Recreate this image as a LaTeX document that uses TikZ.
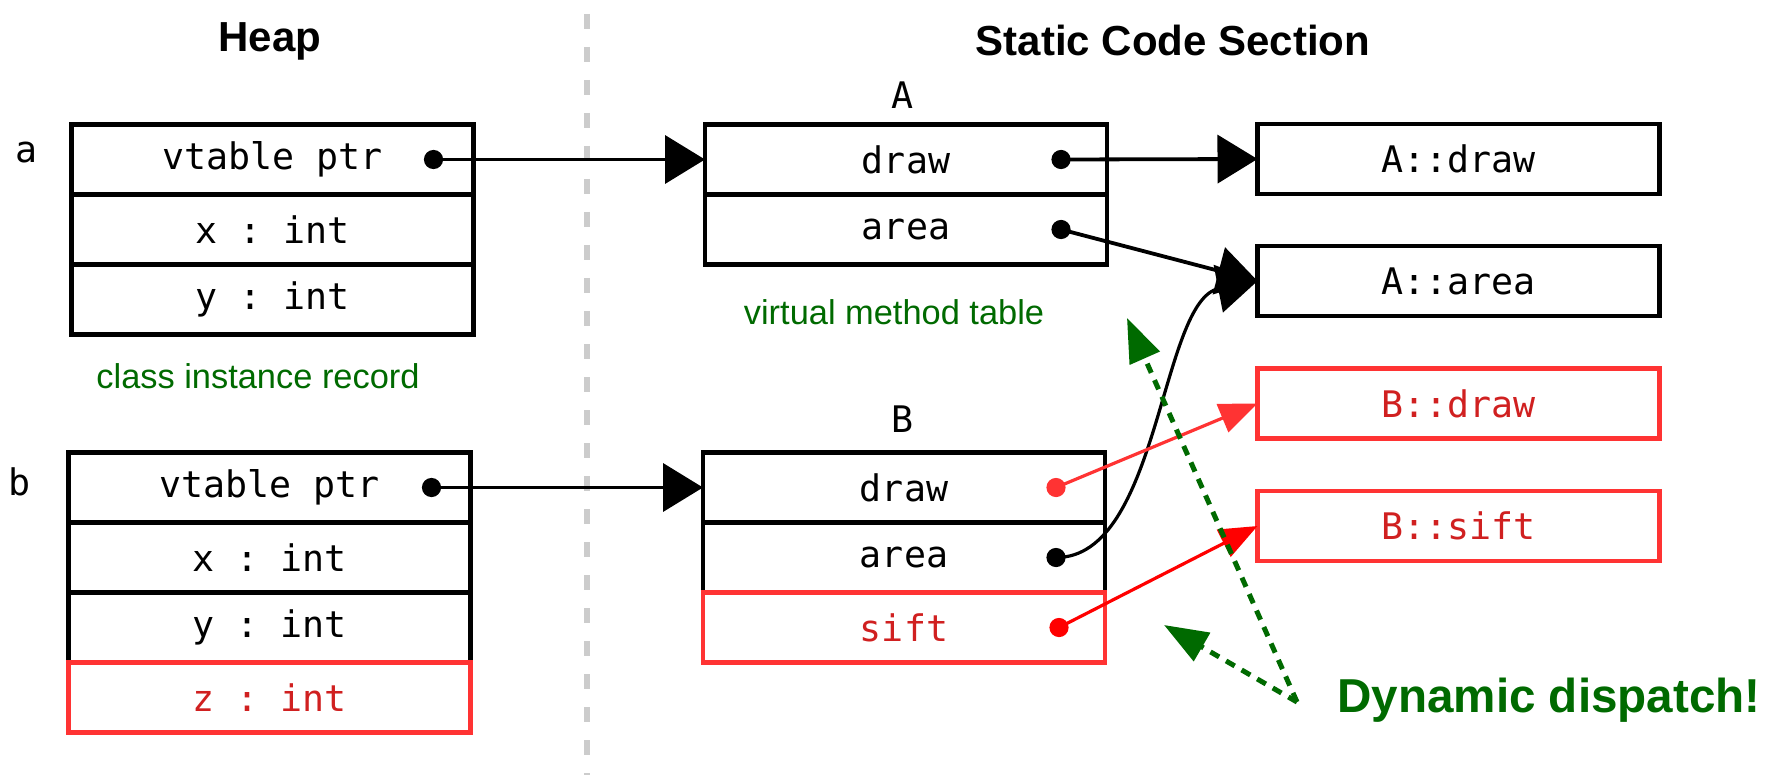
\documentclass[tikz,border=0pt]{standalone}
\usepackage{fontspec}
\setmainfont{Liberation Sans}
\newfontfamily\codefont{DejaVu Sans Mono}
\usetikzlibrary{positioning,arrows.meta}
\frenchspacing

\definecolor{cellred}{HTML}{FF3333}
\definecolor{textred}{HTML}{D02020}
\definecolor{notegreen}{HTML}{006A00}
\definecolor{divgray}{HTML}{CCCCCC}

\tikzset{
  cell/.style={draw,line width=2.2pt,outer sep=0pt,inner sep=0pt,
    minimum width=201pt,minimum height=35pt,
    font=\codefont\fontsize{18.3}{22}\selectfont},
  newcell/.style={cell,draw=cellred,text=textred},
  tag/.style={font=\codefont\fontsize{18.3}{22}\selectfont},
  title/.style={font=\bfseries\fontsize{21}{25}\selectfont},
  note/.style={text=notegreen,font=\fontsize{17.2}{20}\selectfont},
  shout/.style={text=notegreen,font=\bfseries\fontsize{23.8}{28}\selectfont},
  ptr/.style={line width=1.9pt,-{Triangle[length=20pt,width=24pt]}},
  newptr/.style={line width=1.6pt,draw=cellred,-{Triangle[length=19pt,width=15pt]}},
  dispatch/.style={notegreen,line width=2.5pt,dash pattern=on 5pt off 4pt,
    -{Triangle[length=22pt,width=16pt]}},
  divider/.style={divgray,line width=3pt,dash pattern=on 7.5pt off 9pt}
}

\begin{document}
\begin{tikzpicture}[x=0.5pt,y=-0.5pt]
\useasboundingbox (0,0) rectangle (1777,775);

% section titles and divider
\node[title] (heap) at (270,41) {Heap};
\node[title] (static) at (1173,40) {Static Code Section};
\draw[divider] (587,14) -- (587,775);

% object a
\node[cell] (a1) at (272.5,159.5) {vtable ptr};
\node[cell,below=0pt of a1] (a2) {x : int};
\node[cell,below=0pt of a2] (a3) {y : int};
\node[tag] (na) at (27,153) {a};
\node[note] (recnote) at (258,376) {class instance record};

% object b
\node[cell] (b1) at (269.5,487.5) {vtable ptr};
\node[cell,below=0pt of b1] (b2) {x : int};
\node[cell,below=0pt of b2] (b3) {y : int};
\node[newcell,below=0pt of b3] (b4) {z : int};
\node[tag] (nb) at (20,482) {b};

% vtables
\node[cell] (va1) at (906,159.5) {draw};
\node[cell,below=0pt of va1] (va2) {area};
\node[tag] (nA) at (903,95) {A};
\node[note] (vtnote) at (894,312) {virtual method table};

\node[cell] (vb1) at (904,487.5) {draw};
\node[cell,below=0pt of vb1] (vb2) {area};
\node[newcell,below=0pt of vb2] (vb3) {sift};
\node[tag] (nB) at (903,419) {B};

% method bodies
\node[cell] (adraw) at (1458.5,159) {A::draw};
\node[cell] (aarea) at (1458.5,281) {A::area};
\node[newcell] (bdraw) at (1458.5,403.5) {B::draw};
\node[newcell] (bsift) at (1458.5,526) {B::sift};

% pointer slots
\coordinate (pa) at ([xshift=-20pt]a1.east);
\coordinate (pb) at ([xshift=-19.5pt]b1.east);
\coordinate (pad) at ([xshift=-23pt]va1.east);
\coordinate (paa) at ([xshift=-23pt]va2.east);
\coordinate (pbd) at ([xshift=-24.5pt]vb1.east);
\coordinate (pba) at ([xshift=-24.5pt]vb2.east);
\coordinate (pbs) at ([xshift=-23pt]vb3.east);

\draw[ptr] (pa) -- (va1.west);
\draw[ptr] (pb) -- (vb1.west);
\draw[ptr] (pad) -- (adraw.west);
\draw[ptr] (paa) -- (aarea.west);
\draw[ptr,line width=1.6pt] (pba) .. controls (1160,558) and (1160,300) .. (aarea.west);
\draw[newptr] (pbd) -- (bdraw.west);
\draw[newptr,draw=red] (pbs) -- (bsift.west);

\fill (pa) circle (4.8pt) (pb) circle (4.8pt) (pad) circle (4.8pt)
  (paa) circle (4.8pt) (pba) circle (4.8pt);
\fill[cellred] (pbd) circle (4.8pt);
\fill[red] (pbs) circle (4.8pt);

% dispatch note
\coordinate (dd) at (1297,702);
\coordinate (ddup) at (1127,318);
\coordinate (ddleft) at (1164,625);
\draw[dispatch] (dd) -- (ddup);
\draw[dispatch] (dd) -- (ddleft);
\node[shout] (dyn) at (1549,700) {Dynamic dispatch!};
\end{tikzpicture}
\end{document}
